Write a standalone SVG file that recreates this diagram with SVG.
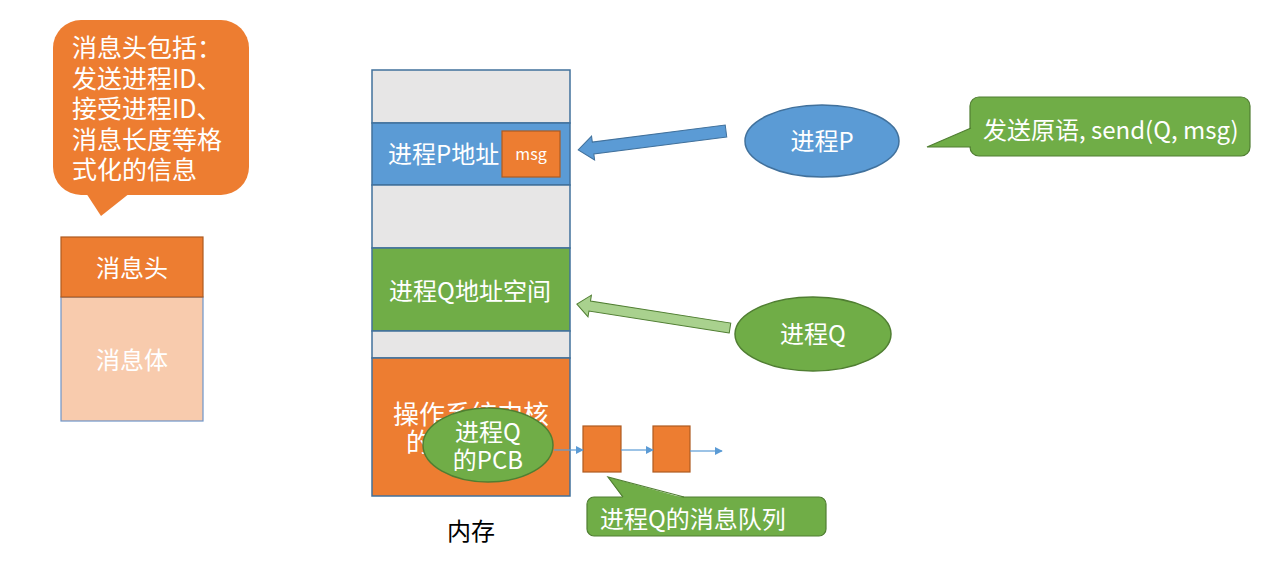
<svg xmlns="http://www.w3.org/2000/svg" width="1284" height="584" viewBox="0 0 1284 584">
<defs>
<style>
text{font-family:"Noto Sans CJK SC","Liberation Sans",sans-serif;}
.w{fill:#FFFFFF;}
.c{text-anchor:middle;}
.mem{stroke:#41719C;stroke-width:1.5;}
.gray{fill:#E7E6E6;}
.blue{fill:#5B9BD5;}
.green{fill:#70AD47;}
.orange{fill:#ED7D31;}
.q{stroke:#5B9BD5;stroke-width:1.2;fill:none;marker-end:url(#ah);}
</style>
<marker id="ah" viewBox="0 0 10 10" refX="9" refY="5" markerWidth="8" markerHeight="8" markerUnits="userSpaceOnUse" orient="auto">
<path d="M0,0 L10,5 L0,10 Z" fill="#5B9BD5"/>
</marker>
</defs>
<rect width="1284" height="584" fill="#FFFFFF"/>

<g id="header-callout">
<rect x="53" y="20" width="196" height="175" rx="28" class="orange"/>
<polygon points="86,193 101,216 130,193" class="orange"/>
<text x="72" y="57" font-size="25" class="w">消息头包括：</text>
<text x="72" y="88" font-size="25" class="w">发送进程ID、</text>
<text x="72" y="118" font-size="25" class="w">接受进程ID、</text>
<text x="72" y="149" font-size="25" class="w">消息长度等格</text>
<text x="72" y="179" font-size="25" class="w">式化的信息</text>
</g>

<g id="message">
<rect x="61" y="297" width="142" height="124" fill="#F8CBAD" stroke="#6F95C8" stroke-width="1.2"/>
<rect x="61" y="237" width="142" height="60" class="orange" stroke="#AE5A21" stroke-width="1.2"/>
<text x="132" y="277" font-size="24" class="w c">消息头</text>
<text x="132" y="369" font-size="24" class="w c">消息体</text>
</g>

<g id="memory">
<rect x="372" y="70" width="198" height="53" class="gray mem"/>
<rect x="372" y="123" width="198" height="62" class="blue mem"/>
<rect x="372" y="185" width="198" height="63" class="gray mem"/>
<rect x="372" y="248" width="198" height="83" class="green mem"/>
<rect x="372" y="331" width="198" height="27" class="gray mem"/>
<rect x="372" y="358" width="198" height="138" class="orange mem"/>
<text x="388" y="163" font-size="24" class="w">进程P地址</text>
<text x="470" y="300" font-size="24" class="w c">进程Q地址空间</text>
<text x="471" y="424" font-size="26" class="w c">操作系统内核</text>
<text x="406" y="452" font-size="26" class="w">的</text>
<text x="471" y="540" font-size="24" fill="#000000" class="c">内存</text>
</g>

<g id="msg">
<rect x="502" y="131" width="58" height="46" class="orange" stroke="#AE5A21" stroke-width="1.2"/>
<text x="531" y="160" font-size="16" class="w c">msg</text>
</g>

<g id="pcb">
<ellipse cx="488" cy="445" rx="65" ry="37" class="green" stroke="#507E32" stroke-width="1.5"/>
<text x="488" y="441" font-size="24" class="w c">进程Q</text>
<text x="488" y="469" font-size="24" class="w c">的PCB</text>
</g>

<g id="queue1"><rect x="583" y="426" width="38" height="46" class="orange" stroke="#AE5A21" stroke-width="1.2"/></g>
<g id="queue2"><rect x="653" y="426" width="37" height="46" class="orange" stroke="#AE5A21" stroke-width="1.2"/></g>

<g id="process-p">
<ellipse cx="822" cy="141" rx="77" ry="36" class="blue" stroke="#41719C" stroke-width="1.5"/>
<text x="822" y="150" font-size="24" class="w c">进程P</text>
</g>

<g id="process-q">
<ellipse cx="813" cy="334" rx="78" ry="37" class="green" stroke="#507E32" stroke-width="1.5"/>
<text x="813" y="343" font-size="24" class="w c">进程Q</text>
</g>

<g id="send-callout">
<rect x="970" y="97" width="280" height="59" rx="9" class="green" stroke="#507E32" stroke-width="1.2"/>
<polygon points="971,128 927,147 971,147" class="green"/>
<path d="M971,128 L927,147 L971,147" fill="none" stroke="#507E32" stroke-width="1.2"/>
<text x="983" y="139" font-size="24" class="w">发送原语, send(Q, msg)</text>
</g>

<g id="queue-callout">
<rect x="587" y="497" width="239" height="39" rx="7" class="green" stroke="#507E32" stroke-width="1.2"/>
<polygon points="623,498 608,477 684,498" class="green"/>
<path d="M623,497 L608,477 L684,497" fill="none" stroke="#507E32" stroke-width="1.2"/>
<text x="600" y="528" font-size="24" class="w">进程Q的消息队列</text>
</g>

<g id="connectors">
<polygon transform="translate(726,131) rotate(172.7)" points="0,-6 134,-6 134,-12 149,0 134,12 134,6 0,6" fill="#5B9BD5" stroke="#41719C" stroke-width="1"/>
<polygon transform="translate(730,328) rotate(-171.1)" points="0,-5 142,-5 142,-11 155,0 142,11 142,5 0,5" fill="#A9D18E" stroke="#507E32" stroke-width="1"/>
<line x1="554" y1="450" x2="583" y2="450" class="q"/>
<line x1="621" y1="450" x2="653" y2="450" class="q"/>
<line x1="690" y1="451" x2="722" y2="451" class="q"/>
</g>
</svg>
